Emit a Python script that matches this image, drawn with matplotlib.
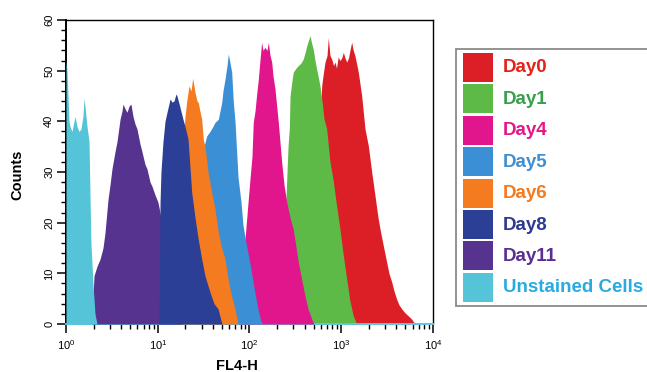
import numpy as np
import matplotlib
matplotlib.use("Agg")
import matplotlib.pyplot as plt
from matplotlib.patches import Rectangle
from matplotlib.ticker import MultipleLocator, LogLocator

plt.rcParams['font.family'] = ['Liberation Sans', 'DejaVu Sans']

# ---- data: log10(FL4-H) positions and counts ----
unstained_logx = [0.000, 0.011, 0.022, 0.033, 0.044, 0.065, 0.087, 0.098, 0.120, 0.142,
                  0.163, 0.185, 0.196, 0.207, 0.229, 0.251, 0.262, 0.272, 0.294, 0.316, 0.338]
unstained_cnt = [52, 50, 45, 40, 39, 38, 40, 41, 39, 38,
                 38.5, 41, 44.5, 43, 39, 36, 25, 16, 8, 2, 0]

day11_logx = [0.283, 0.294, 0.305, 0.338, 0.371, 0.403, 0.425, 0.458, 0.480, 0.501, 0.534,
              0.556, 0.589, 0.610, 0.621, 0.643, 0.665, 0.687, 0.708, 0.730, 0.752, 0.774,
              0.807, 0.828, 0.861, 0.883, 0.916, 0.937, 0.970, 1.003, 1.046, 1.112, 1.188, 1.264]
day11_cnt = [0, 5, 9.5, 11.4, 12.8, 15, 18, 24.6, 27.5, 30.6, 34,
             36, 40.4, 42, 43.4, 42.5, 41.8, 43, 43.4, 41, 39.5, 38.5,
             35.5, 34, 31.5, 30.6, 28, 27.2, 25.5, 24, 20, 13, 6, 0]

day8_logx = [1.014, 1.025, 1.035, 1.057, 1.079, 1.101, 1.123, 1.134, 1.155, 1.177, 1.199,
             1.210, 1.232, 1.253, 1.275, 1.297, 1.330, 1.370, 1.406, 1.439, 1.479, 1.515,
             1.569, 1.613, 1.657, 1.678, 1.700]
day8_cnt = [0, 24, 30, 36, 40, 41.8, 43.5, 44.4, 43.8, 44, 45.4,
            45, 43.5, 42, 40.4, 39, 36.5, 26, 21, 17, 12.8, 9.5,
            6.3, 4, 3, 1.5, 0]

day6_logx = [1.199, 1.264, 1.297, 1.319, 1.341, 1.362, 1.381, 1.395, 1.406, 1.428, 1.442,
             1.460, 1.479, 1.496, 1.515, 1.548, 1.588, 1.624, 1.657, 1.689, 1.733, 1.766,
             1.798, 1.842, 1.875]
day6_cnt = [0, 30, 41, 44.4, 47, 46, 48.5, 47, 45.7, 44, 43.7,
            42, 40.4, 36.5, 35, 30, 26, 22.7, 18.5, 15.5, 12.8, 9,
            6, 3, 0]

day5_logx = [1.428, 1.471, 1.504, 1.533, 1.569, 1.602, 1.624, 1.660, 1.678, 1.697, 1.711,
             1.733, 1.755, 1.769, 1.788, 1.806, 1.823, 1.842, 1.875, 1.908, 1.929, 1.962,
             2.005, 2.060, 2.092, 2.125, 2.147]
day5_cnt = [0, 25, 35, 37.1, 38, 39, 39.8, 40.4, 42, 43.7, 46,
            48.3, 51, 53.3, 51.5, 49.7, 44, 40, 29, 24, 19.5, 16,
            12, 6, 3, 0.5, 0]

day4_logx = [1.886, 1.929, 1.969, 1.984, 2.005, 2.027, 2.041, 2.060, 2.076, 2.096, 2.114,
             2.132, 2.147, 2.169, 2.191, 2.205, 2.224, 2.242, 2.256, 2.278, 2.314, 2.351,
             2.376, 2.406, 2.442, 2.477, 2.532, 2.572, 2.605, 2.638, 2.678, 2.703]
day4_cnt = [0, 12, 20.7, 24, 28.6, 33, 39.8, 42, 45, 48.3, 52,
            55.6, 54, 54.6, 54, 55.6, 53, 51.7, 49, 46.4, 39.8, 31.9,
            27.5, 24, 21, 18.7, 12.2, 8.5, 5.5, 3, 1, 0]

day1_logx = [2.343, 2.387, 2.420, 2.434, 2.442, 2.463, 2.477, 2.507, 2.532, 2.561, 2.586,
             2.605, 2.624, 2.643, 2.660, 2.676, 2.695, 2.714, 2.732, 2.752, 2.768, 2.790,
             2.812, 2.841, 2.877, 2.910, 2.948, 2.986, 3.019, 3.059, 3.095, 3.131, 3.168]
day1_cnt = [0, 20, 35, 38.5, 45, 48, 49.7, 50.5, 51, 51.5, 52.3,
            53.5, 54.9, 56, 56.9, 55.5, 54.2, 52, 50.3, 48.5, 47, 44,
            40.5, 38.5, 32, 28.6, 23.5, 18.7, 14, 8.9, 4.5, 1.6, 0]

day0_logx = [2.703, 2.747, 2.774, 2.787, 2.801, 2.823, 2.845, 2.859, 2.877, 2.896, 2.916,
             2.932, 2.948, 2.967, 2.986, 3.005, 3.023, 3.041, 3.059, 3.079, 3.100, 3.114,
             3.131, 3.150, 3.186, 3.223, 3.259, 3.295, 3.332, 3.368, 3.401, 3.423, 3.459,
             3.495, 3.520, 3.550, 3.575, 3.604, 3.629, 3.659, 3.695, 3.731, 3.766, 3.804]
day0_cnt = [0, 25, 42, 47, 49, 51.7, 53, 56.5, 53, 52.3, 51,
            51.7, 50.5, 52.7, 52, 52.5, 53.6, 52.5, 51.7, 52.5, 54.5, 55.6,
            54, 52.9, 49.7, 45, 38.5, 35.2, 30, 25.3, 21, 18.7, 15.4,
            12.2, 10, 8.3, 6.5, 4.9, 3.8, 3, 2.2, 1.6, 1, 0]

labels = ["Day0", "Day1", "Day4", "Day5", "Day6", "Day8", "Day11", "Unstained Cells"]
fill_colors = ["#dc1f26", "#5dba46", "#e2168c", "#3b8fd4", "#f47b20", "#2b3f96", "#56338f", "#55c3d8"]
text_colors = ["#e2231a", "#3a9f4c", "#e5168a", "#3f8fd2", "#f47a20", "#2e3a8f", "#5b2e91", "#29abe2"]
series = [(day0_logx, day0_cnt), (day1_logx, day1_cnt), (day4_logx, day4_cnt),
          (day5_logx, day5_cnt), (day6_logx, day6_cnt), (day8_logx, day8_cnt),
          (day11_logx, day11_cnt), (unstained_logx, unstained_cnt)]
zorders = [1, 2, 3, 4, 5, 8, 6, 9]

W, H = 647, 372
fig = plt.figure(figsize=(W / 100, H / 100), dpi=100)
ax = fig.add_axes([66 / W, 1 - 324 / H, (433 - 66) / W, (324 - 20) / H])

for (lx, c), col, z in zip(series, fill_colors, zorders):
    ax.fill_between(10 ** np.array(lx), c, 0, color=col, lw=0, zorder=z)

ax.set_xscale('log')
ax.set_xlim(1, 1e4)
ax.set_ylim(0, 60)
ax.xaxis.set_major_locator(LogLocator(base=10, numticks=10))
ax.xaxis.set_minor_locator(LogLocator(base=10, subs=np.arange(2, 10), numticks=50))
ax.yaxis.set_major_locator(MultipleLocator(10))
ax.yaxis.set_minor_locator(MultipleLocator(2))
ax.tick_params(which='major', direction='out', length=6.5, width=1.1, labelsize=8, color='black')
ax.tick_params(which='minor', direction='out', length=3.5, width=1.0, color='black')
ax.tick_params(axis='y', pad=2)
plt.setp(ax.get_yticklabels(), rotation=90, va='center')
for s in ['left', 'top', 'right']:
    ax.spines[s].set_color('black')
ax.spines['left'].set_linewidth(1.4)
ax.spines['top'].set_linewidth(1.0)
ax.spines['right'].set_linewidth(1.0)
ax.spines['bottom'].set_color('#5cc6df')
ax.spines['bottom'].set_linewidth(1.4)
ax.set_xlabel("FL4-H", fontsize=10.5, fontweight='bold')
ax.xaxis.set_label_coords(0.467, -0.115)
ax.set_ylabel("Counts", fontsize=10.5, fontweight='bold')
ax.yaxis.set_label_coords(-0.114, 0.49)

# ---- legend box (right side runs off the picture) ----
lax = fig.add_axes([455 / W, 1 - 307 / H, (W - 455) / W, (307 - 48) / H])
lax.set_xlim(455, W)
lax.set_ylim(307, 48)
lax.axis('off')
lax.plot([W + 5, 455.8, 455.8, W + 5], [48.6, 48.6, 306.4, 306.4],
         color='#8a8a8a', lw=1.3, clip_on=False, solid_joinstyle='miter')
for i, (lab, fc, tc) in enumerate(zip(labels, fill_colors, text_colors)):
    y0 = 53 + i * 31.4
    lax.add_patch(Rectangle((463, y0), 30, 29, color=fc, lw=0))
    lax.text(503, y0 + 15, lab, color=tc, fontsize=13.5, fontweight='bold',
             va='center', ha='left', clip_on=False)

fig.savefig("out.png", dpi=100)
